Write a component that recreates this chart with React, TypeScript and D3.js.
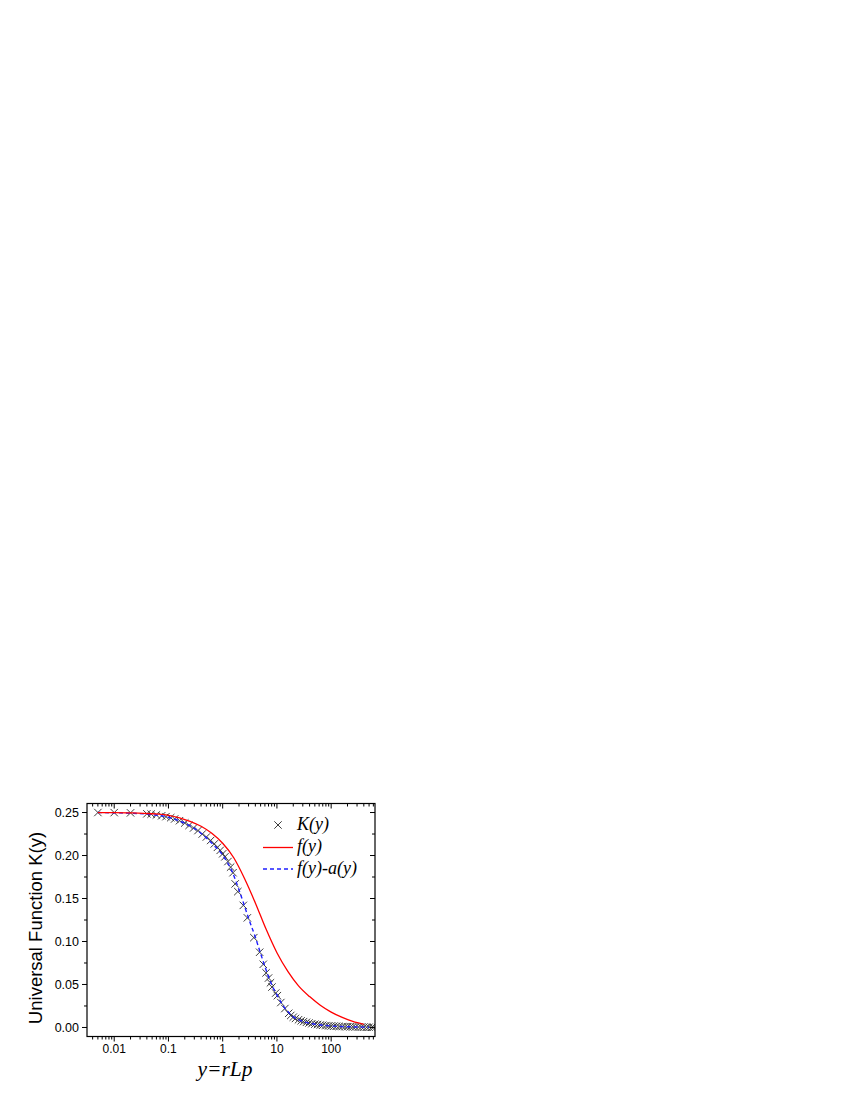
import React from "react";
import * as d3 from "d3";

// K(y) scatter data
const kX = [0.005, 0.01, 0.02, 0.04, 0.048, 0.06, 0.075, 0.09, 0.11, 0.13, 0.16, 0.2, 0.24, 0.29, 0.35, 0.42, 0.5, 0.6, 0.7, 0.8, 0.9, 1.0, 1.1, 1.25, 1.4, 1.55, 1.7, 1.9, 2.4, 2.85, 3.75, 4.8, 5.6, 6.3, 7.0, 7.6, 8.1, 9.5, 10.2, 11.8, 14, 16.5, 18, 20, 22, 25, 28, 31, 35, 39, 44, 50, 56, 63, 70, 80, 90, 100, 112, 125, 140, 160, 180, 200, 225, 250, 280, 320, 360, 400, 450, 500, 560, 600];
const kV = [0.25, 0.2499, 0.2496, 0.2485, 0.2482, 0.2472, 0.2462, 0.2452, 0.244, 0.2425, 0.2405, 0.2378, 0.235, 0.232, 0.229, 0.225, 0.2215, 0.2175, 0.2135, 0.2095, 0.206, 0.202, 0.1985, 0.193, 0.1865, 0.18, 0.167, 0.158, 0.142, 0.1275, 0.1045, 0.0875, 0.0735, 0.0635, 0.0575, 0.052, 0.047, 0.04, 0.037, 0.029, 0.022, 0.0165, 0.014, 0.012, 0.0105, 0.009, 0.0078, 0.0068, 0.006, 0.0052, 0.0044, 0.0038, 0.0034, 0.0029, 0.0026, 0.0022, 0.0019, 0.0017, 0.0015, 0.0014, 0.0012, 0.0011, 0.001, 0.0009, 0.0008, 0.0007, 0.0006, 0.0005, 0.0004, 0.0004, 0.0003, 0.0003, 0.0002, 0.0002];

// f(y) red curve
const fX = [0.005, 0.01, 0.02, 0.05, 0.1, 0.16, 0.25, 0.4, 0.63, 1, 1.6, 2.5, 4, 6.3, 10, 16, 25, 40, 63, 100, 160, 250, 400];
const fV = [0.25, 0.2499, 0.2496, 0.2486, 0.2468, 0.2439, 0.2398, 0.234, 0.2258, 0.2142, 0.1974, 0.1739, 0.1449, 0.1144, 0.0869, 0.0649, 0.0484, 0.0359, 0.0259, 0.0179, 0.0117, 0.007, 0.0036];

// f(y)-a(y) blue dashed curve
const gX = [0.005, 0.01, 0.02, 0.05, 0.1, 0.2, 0.3, 0.5, 0.7, 1.0, 1.5, 2.0, 2.5, 3.0, 4.0, 5.0, 6.0, 7.0, 8.0, 10, 12, 14, 17, 20, 25, 33, 45, 65, 100, 150, 250, 400, 500];
const gV = [0.25, 0.2497, 0.2492, 0.2475, 0.2445, 0.2375, 0.2315, 0.2205, 0.2115, 0.2005, 0.181, 0.16, 0.142, 0.127, 0.105, 0.086, 0.071, 0.059, 0.05, 0.038, 0.029, 0.0225, 0.0165, 0.0125, 0.009, 0.0062, 0.0043, 0.0028, 0.0017, 0.0011, 0.0007, 0.0004, 0.0003];

const xMajor = [0.01, 0.1, 1, 10, 100];
const xMajorLabels = ["0.01", "0.1", "1", "10", "100"];
const yMajor = [0, 0.05, 0.1, 0.15, 0.2, 0.25];
const yMajorLabels = ["0.00", "0.05", "0.10", "0.15", "0.20", "0.25"];
const yMinor = [0.025, 0.075, 0.125, 0.175, 0.225];

const legendLabels = ["K(y)", "f(y)", "f(y)-a(y)"];

const L = 87, R = 375, T = 803.5, B = 1036.5;
const sans = "'Liberation Sans', Arial, sans-serif";
const serif = "'Liberation Serif', 'Times New Roman', serif";
const RED = "#ff0000";
const BLUE = "#1f1fff";

export default function App() {
  const x = d3.scaleLog().domain([0.00315, 643]).range([L, R]);
  const y = d3.scaleLinear().domain([-0.0105, 0.2605]).range([B, T]);

  const xMinor: number[] = [];
  for (let e = -3; e <= 2; e++) {
    for (let m = 2; m <= 9; m++) {
      const v = m * Math.pow(10, e);
      if (v >= 0.00315 && v <= 643) xMinor.push(v);
    }
  }

  const line = d3
    .line<[number, number]>()
    .x((d) => x(d[0]))
    .y((d) => y(d[1]))
    .curve(d3.curveMonotoneX);

  const fPath = line(fX.map((v, i) => [v, fV[i]] as [number, number])) || "";
  const gPath = line(gX.map((v, i) => [v, gV[i]] as [number, number])) || "";
  const cross = "M-3.7,-3.7L3.7,3.7M-3.7,3.7L3.7,-3.7";

  const maj = 5, min = 3;

  return (
    <svg width={850} height={1100} style={{ position: "absolute", left: 0, top: 0 }}>
      <rect x={0} y={0} width={850} height={1100} fill="#fff" />
      <defs>
        <clipPath id="plotclip">
          <rect x={L} y={T} width={R - L} height={B - T} />
        </clipPath>
      </defs>
      <g clipPath="url(#plotclip)">
        {kX.map((v, i) => (
          <path key={i} d={cross} transform={`translate(${x(v)},${y(kV[i])})`} stroke="#3c3c3c" strokeWidth={1} fill="none" />
        ))}
        <path d={gPath} fill="none" stroke={BLUE} strokeWidth={1.4} strokeDasharray="4,3" />
        <path d={fPath} fill="none" stroke={RED} strokeWidth={1.3} />
      </g>
      {/* frame */}
      <rect x={L} y={T} width={R - L} height={B - T} fill="none" stroke="#000" strokeWidth={1.2} />
      {/* x ticks bottom (outward) and top (inward) */}
      {xMajor.map((v, i) => (
        <g key={"xm" + i}>
          <line x1={x(v)} x2={x(v)} y1={B} y2={B + maj} stroke="#000" />
          <line x1={x(v)} x2={x(v)} y1={T} y2={T + maj} stroke="#000" />
          <text x={x(v)} y={B + 16} textAnchor="middle" fontFamily={sans} fontSize={12} fill="#000">
            {xMajorLabels[i]}
          </text>
        </g>
      ))}
      {xMinor.map((v, i) => (
        <g key={"xn" + i}>
          <line x1={x(v)} x2={x(v)} y1={B} y2={B + min} stroke="#000" />
          <line x1={x(v)} x2={x(v)} y1={T} y2={T + min} stroke="#000" />
        </g>
      ))}
      {/* y ticks left (outward) right (inward) */}
      {yMajor.map((v, i) => (
        <g key={"ym" + i}>
          <line x1={L - maj} x2={L} y1={y(v)} y2={y(v)} stroke="#000" />
          <line x1={R - maj} x2={R} y1={y(v)} y2={y(v)} stroke="#000" />
          <text x={L - 8} y={y(v) + 4.5} textAnchor="end" fontFamily={sans} fontSize={12.5} fill="#000">
            {yMajorLabels[i]}
          </text>
        </g>
      ))}
      {yMinor.map((v, i) => (
        <g key={"yn" + i}>
          <line x1={L - min} x2={L} y1={y(v)} y2={y(v)} stroke="#000" />
          <line x1={R - min} x2={R} y1={y(v)} y2={y(v)} stroke="#000" />
        </g>
      ))}
      {/* axis titles */}
      <text transform={`translate(42,928) rotate(-90)`} textAnchor="middle" fontFamily={sans} fontSize={18.5} fill="#000">
        Universal Function K(y)
      </text>
      <text x={225} y={1075.5} textAnchor="middle" fontFamily={serif} fontStyle="italic" fontSize={21.5} fill="#000">
        y=rLp
      </text>
      {/* legend */}
      <path d={cross} transform="translate(278,825)" stroke="#3c3c3c" strokeWidth={1} fill="none" />
      <text x={297} y={830} fontFamily={serif} fontStyle="italic" fontSize={18} fill="#000">{legendLabels[0]}</text>
      <line x1={263} x2={293} y1={847.5} y2={847.5} stroke={RED} strokeWidth={1.3} />
      <text x={297} y={852} fontFamily={serif} fontStyle="italic" fontSize={18} fill="#000">{legendLabels[1]}</text>
      <line x1={263} x2={293} y1={869} y2={869} stroke={BLUE} strokeWidth={1.5} strokeDasharray="4,3" />
      <text x={297} y={874} fontFamily={serif} fontStyle="italic" fontSize={18} fill="#000">{legendLabels[2]}</text>
    </svg>
  );
}
